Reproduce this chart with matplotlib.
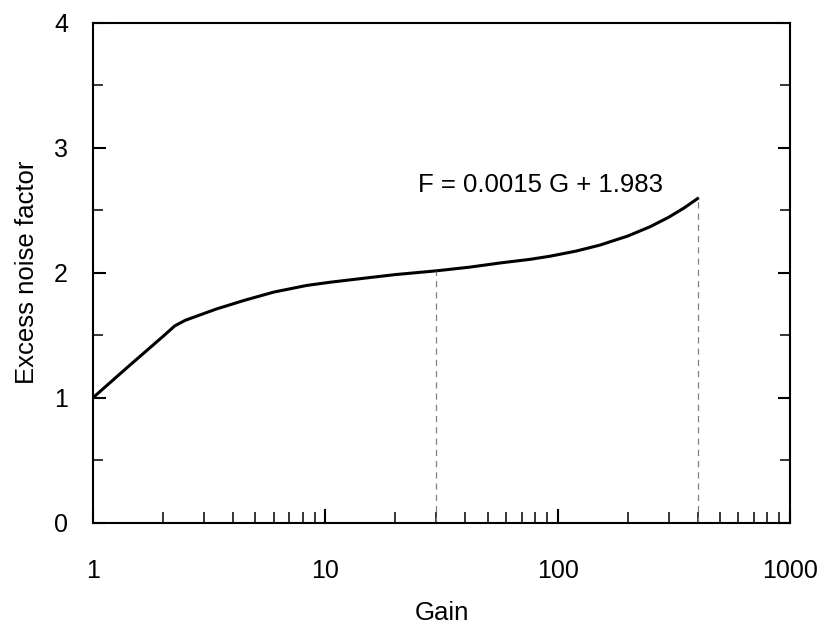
import matplotlib
matplotlib.use("Agg")
import matplotlib.pyplot as plt
from matplotlib.ticker import LogLocator, MultipleLocator, FixedFormatter, FixedLocator, NullFormatter

plt.rcParams['font.family'] = ['Liberation Sans', 'DejaVu Sans']

# measured excess noise factor vs. gain
gain = [1, 1.4, 2.0, 2.25, 2.5, 3.4, 4.5, 6.0, 8.3, 10.5, 15, 20, 30,
        42, 56.5, 76, 92.7, 120, 152, 200, 250, 300, 350, 400]
noise = [1.0, 1.24, 1.49, 1.575, 1.62, 1.71, 1.78, 1.845, 1.898, 1.924, 1.958, 1.985, 2.015,
         2.045, 2.078, 2.107, 2.132, 2.173, 2.221, 2.293, 2.368, 2.443, 2.518, 2.593]

# fit range markers
fit_lo, fit_hi = 30, 400
fit_text = "F = 0.0015 G + 1.983"

x_ticks = [1, 10, 100, 1000]
x_labels = ["1", "10", "100", "1000"]
y_ticks = [0, 1, 2, 3, 4]

fig = plt.figure(figsize=(8.2, 6.24), dpi=100)
ax = fig.add_axes([0.1134, 0.1623, 0.85, 0.8013])

ax.plot(gain, noise, color='black', lw=2.2, solid_joinstyle='round')

# vertical dashed guides down to the axis
for g in (fit_lo, fit_hi):
    f = noise[gain.index(g)]
    ax.plot([g, g], [0, f], color='#808080', lw=0.9, ls=(0, (5, 4)))

ax.text(25.1, 2.645, fit_text, fontsize=18.5, ha='left', va='baseline')

ax.set_xscale('log')
ax.set_xlim(1, 1000)
ax.set_ylim(0, 4)

ax.xaxis.set_major_locator(FixedLocator(x_ticks))
ax.xaxis.set_major_formatter(FixedFormatter(x_labels))
ax.xaxis.set_minor_locator(LogLocator(base=10, subs=range(2, 10)))
ax.xaxis.set_minor_formatter(NullFormatter())
ax.yaxis.set_major_locator(FixedLocator(y_ticks))
ax.yaxis.set_minor_locator(MultipleLocator(0.5))

ax.tick_params(which='both', direction='in', top=False, right=True,
               labelsize=18, width=1.5)
ax.tick_params(axis='x', which='major', length=10, pad=26)
ax.tick_params(axis='x', which='minor', length=8, width=1.1)
ax.tick_params(axis='y', which='major', length=9, pad=18)
ax.tick_params(axis='y', which='minor', length=7, width=1.1)

for sp in ax.spines.values():
    sp.set_linewidth(1.5)

ax.set_xlabel("Gain", fontsize=18.5, labelpad=13)
ax.set_ylabel("Excess noise factor", fontsize=18.5, labelpad=11)

fig.savefig("out.png", dpi=100)
